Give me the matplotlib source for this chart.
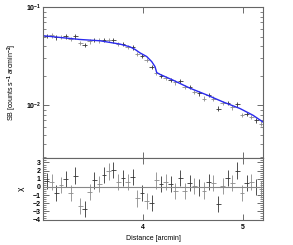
import numpy as np
import matplotlib.pyplot as plt
from matplotlib.ticker import MultipleLocator, FixedLocator, LogLocator, NullFormatter

plt.rcParams['font.family'] = ['Liberation Sans', 'DejaVu Sans']
plt.rcParams['font.weight'] = 'bold'
plt.rcParams['mathtext.fontset'] = 'custom'
plt.rcParams['mathtext.rm'] = 'Liberation Sans:bold'
plt.rcParams['mathtext.it'] = 'Liberation Sans:bold:italic'
plt.rcParams['mathtext.bf'] = 'Liberation Sans:bold'

# radial bins [arcmin]
dist = [3.037, 3.085, 3.133, 3.180, 3.228, 3.276, 3.323, 3.371, 3.418, 3.466,
        3.514, 3.561, 3.609, 3.657, 3.704, 3.752, 3.799, 3.847, 3.895, 3.942,
        3.990, 4.037, 4.085, 4.133, 4.180, 4.228, 4.276, 4.323, 4.371, 4.418,
        4.466, 4.514, 4.561, 4.609, 4.657, 4.704, 4.752, 4.799, 4.847, 4.895,
        4.942, 4.990, 5.037, 5.085, 5.132, 5.180]

sb = [0.0510, 0.0514, 0.0490, 0.0495, 0.0502, 0.0472, 0.0502, 0.0429, 0.0412, 0.0446,
      0.0464, 0.0457, 0.0464, 0.0464, 0.0457, 0.0419, 0.0419, 0.0391, 0.0387, 0.0331,
      0.0320, 0.0289, 0.0247, 0.0214, 0.0200, 0.0191, 0.0180, 0.0171, 0.0178, 0.0154,
      0.0153, 0.0137, 0.0132, 0.0117, 0.0127, 0.0117, 0.00925, 0.0106, 0.0106, 0.0095,
      0.0102, 0.0079, 0.0082, 0.0076, 0.0070, 0.0065]

chi = [0.7, 0.6, -0.7, 0.2, 1.0, -0.7, 1.4, -2.3, -2.7, -0.6,
       0.8, 0.4, 1.5, 1.9, 2.1, 0.6, 1.1, 0.6, 1.2, -1.4,
       -0.7, -1.7, -2.0, 0.8, 0.4, 0.6, 0.4, -0.5, 1.1, -0.5,
       0.45, 0.15, -0.05, -0.45, 0.6, 0.5, -2.1, 0.15, 1.1, 0.45,
       2.0, -0.7, 0.45, 0.6, 0.0, -0.3]

# model curve
model_x = [3.00, 3.37, 3.57, 3.77, 3.87, 3.92, 3.97, 4.037, 4.087, 4.12,
           4.137, 4.17, 4.30, 4.47, 4.64, 4.80, 4.97, 5.10, 5.20]
model_y = [0.0510, 0.0467, 0.0453, 0.0419, 0.0393, 0.0370, 0.0341, 0.0313, 0.0278, 0.0247,
           0.0215, 0.0206, 0.0180, 0.0149, 0.0127, 0.0108, 0.00925, 0.0079, 0.00674]

dist = np.array(dist)
sb = np.array(sb)
chi = np.array(chi)
cols = ['#333333' if i % 2 == 0 else '#8a8a8a' for i in range(len(dist))]

fig = plt.figure(figsize=(2.93, 2.45), dpi=100)
ax1 = fig.add_axes([0.1468, 0.3551, 0.7508, 0.6163])
ax2 = fig.add_axes([0.1468, 0.1020, 0.7508, 0.2531], sharex=ax1)

for i in range(len(dist)):
    ax1.errorbar(dist[i], sb[i], yerr=0.05 * sb[i], xerr=0.024, fmt='none',
                 ecolor=cols[i], elinewidth=0.6, capsize=0)
    ax2.errorbar(dist[i], chi[i], yerr=1.0, xerr=0.024, fmt='none',
                 ecolor=cols[i], elinewidth=0.6, capsize=0)
ax1.plot(model_x, model_y, color='#2a2aee', lw=1.0)
ax2.axhline(0, color='#888888', lw=0.8)

ax1.set_yscale('log')
ax1.set_xlim(3.0, 5.2)
ax1.set_ylim(0.0029, 0.1)
ax2.set_ylim(-4.05, 3.55)

ax1.set_ylabel('SB [counts s$^{-1}$ arcmin$^{-2}$]', fontsize=5, labelpad=5)
ax2.set_ylabel('χ', fontsize=6, labelpad=6)
ax2.set_xlabel('Distance [arcmin]', fontsize=5, labelpad=3)

ax1.yaxis.set_major_locator(LogLocator(base=10))
ax1.yaxis.set_minor_locator(LogLocator(base=10, subs=np.arange(2, 10)))
ax1.yaxis.set_minor_formatter(NullFormatter())
ax2.xaxis.set_major_locator(FixedLocator([4, 5]))
ax2.yaxis.set_major_locator(MultipleLocator(1))
ax2.yaxis.set_minor_locator(MultipleLocator(0.25))

for ax in (ax1, ax2):
    ax.tick_params(which='both', direction='in', top=True, right=True,
                   labelsize=5, colors='#555555', labelcolor='black', pad=1.5)
    ax.tick_params(which='major', length=4, width=0.6)
    ax.tick_params(which='minor', length=2, width=0.5)
    for s in ax.spines.values():
        s.set_color('#666666')
        s.set_linewidth(0.8)
ax2.tick_params(axis='x', pad=3)
plt.setp(ax1.get_xticklabels(), visible=False)
for lab in ax1.get_yticklabels() + ax2.get_yticklabels() + ax2.get_xticklabels():
    lab.set_fontweight('bold')

fig.savefig('out.png', dpi=100)
plt.close()
